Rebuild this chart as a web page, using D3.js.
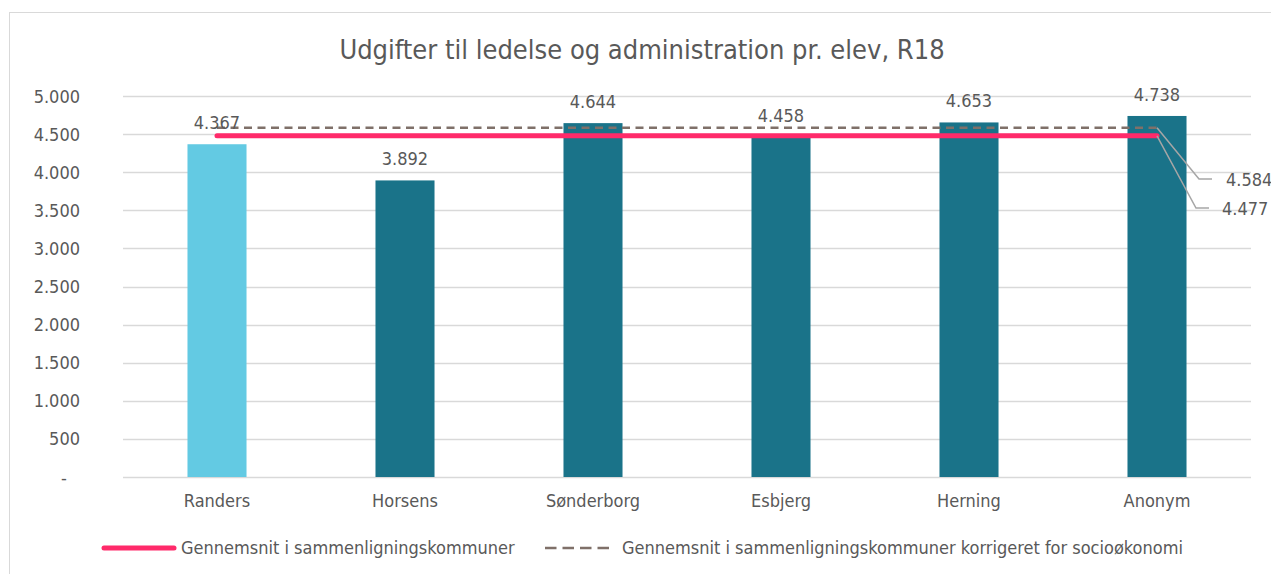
<!DOCTYPE html>
<html><head><meta charset="utf-8">
<script src="https://cdn.jsdelivr.net/npm/d3@7"></script>
<style>body{margin:0;background:#fff}svg{display:block}text{font-family:"DejaVu Sans Condensed","DejaVu Sans",sans-serif;fill:#595959}</style>
</head><body>
<svg id="c" width="1271" height="574"></svg>
<script>
const categories = ["Randers","Horsens","Sønderborg","Esbjerg","Herning","Anonym"];
const values = [4367,3892,4644,4458,4653,4738];
const barColors = ["#63CAE3","#1A7389","#1A7389","#1A7389","#1A7389","#1A7389"];
const avgValue = 4477;
const avgCorrValue = 4584;
const yTicks = [0,500,1000,1500,2000,2500,3000,3500,4000,4500,5000];
const title = "Udgifter til ledelse og administration pr. elev, R18";
const legendLabels = ["Gennemsnit i sammenligningskommuner","Gennemsnit i sammenligningskommuner korrigeret for socioøkonomi"];

const svg = d3.select("#c");
const fmt = v => v === 0 ? "-" : d3.format(",")(v).replace(/,/g, ".");
const L = 123, R = 1251, T = 96, B = 477;
const FS = "18px";
const x = d3.scaleBand().domain(categories).range([L, R]).paddingInner(0.686).paddingOuter(0.343);
const y = d3.scaleLinear().domain([0, 5000]).range([B, T]);

svg.append("rect").attr("x",9.5).attr("y",12.5).attr("width",1300).attr("height",600)
  .attr("fill","none").attr("stroke","#d9d9d9").attr("stroke-width",1);

svg.append("text").attr("x",642).attr("y",59).attr("text-anchor","middle")
  .style("font-size","27px").text(title);

// grid
svg.append("g").selectAll("line").data(yTicks).join("line")
  .attr("x1",L).attr("x2",R).attr("y1",d=>Math.round(y(d))+0.5).attr("y2",d=>Math.round(y(d))+0.5)
  .attr("stroke","#d9d9d9").attr("stroke-width",1.5);

// y labels
svg.append("g").selectAll("text").data(yTicks).join("text")
  .attr("x",d => d===0 ? 64 : 80).attr("y",d=>y(d)+6.5).attr("text-anchor",d=>d===0?"middle":"end")
  .style("font-size",FS).text(fmt);

// bars
svg.append("g").selectAll("rect").data(values).join("rect")
  .attr("x",(d,i)=>x(categories[i])).attr("width",x.bandwidth())
  .attr("y",d=>y(d)).attr("height",d=>B-y(d)).attr("fill",(d,i)=>barColors[i]);

// x labels
svg.append("g").selectAll("text").data(categories).join("text")
  .attr("x",d=>x(d)+x.bandwidth()/2).attr("y",507).attr("text-anchor","middle")
  .style("font-size",FS).text(d=>d);

const cx = i => x(categories[i]) + x.bandwidth()/2;
const n = categories.length;

// avg line
svg.append("line").attr("x1",cx(0)).attr("x2",cx(n-1)).attr("y1",y(avgValue)).attr("y2",y(avgValue))
  .attr("stroke","#FF2A6A").attr("stroke-width",5).attr("stroke-linecap","round");
// corrected dashed
svg.append("line").attr("x1",cx(0)).attr("x2",cx(n-1)).attr("y1",y(avgCorrValue)).attr("y2",y(avgCorrValue))
  .attr("stroke","#7F7069").attr("stroke-width",2.5).attr("stroke-dasharray","8,5.5");

// data labels
svg.append("g").selectAll("text").data(values).join("text")
  .attr("x",(d,i)=>cx(i)).attr("y",d=>y(d)-15).attr("text-anchor","middle")
  .style("font-size",FS).text(fmt);

// leader lines + labels
const lead = [
  {v:avgCorrValue, ex:1199, ey:179, hx:1212, lx:1226},
  {v:avgValue, ex:1196, ey:208, hx:1209, lx:1222}
];
lead.forEach(o=>{
  svg.append("polyline").attr("points",`${cx(n-1)},${y(o.v)} ${o.ex},${o.ey} ${o.hx},${o.ey}`)
    .attr("fill","none").attr("stroke","#a6a6a6").attr("stroke-width",1.5);
  svg.append("text").attr("x",o.lx).attr("y",o.ey+6.5).style("font-size",FS).text(fmt(o.v));
});

// legend
const ly = 548;
svg.append("line").attr("x1",104).attr("x2",174).attr("y1",ly).attr("y2",ly)
  .attr("stroke","#FF2A6A").attr("stroke-width",5).attr("stroke-linecap","round");
svg.append("text").attr("x",181).attr("y",ly+6).style("font-size",FS).text(legendLabels[0]);
svg.append("line").attr("x1",545).attr("x2",612).attr("y1",ly).attr("y2",ly)
  .attr("stroke","#7F7069").attr("stroke-width",2.5).attr("stroke-dasharray","11.5,6");
svg.append("text").attr("x",622).attr("y",ly+6).style("font-size",FS).text(legendLabels[1]);
</script>
</body></html>
